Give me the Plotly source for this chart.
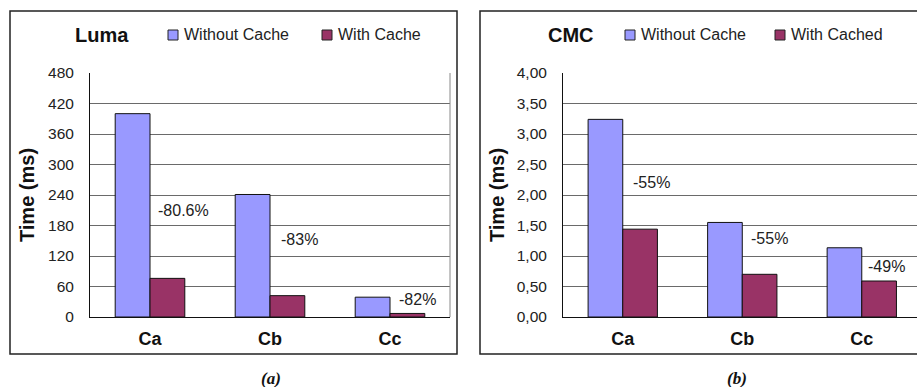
import plotly.graph_objects as go

W, H = 917, 387

categories = ["Ca", "Cb", "Cc"]

luma_without = [400, 241, 39]
luma_with = [76, 42, 7]
luma_labels = ["-80.6%", "-83%", "-82%"]
luma_label_x = [0.275, 1.242, 2.225]
luma_label_y = [210, 153, 35]
luma_ticks = [0, 60, 120, 180, 240, 300, 360, 420, 480]
luma_ticktext = ["0", "60", "120", "180", "240", "300", "360", "420", "480"]

cmc_without = [3.24, 1.55, 1.135]
cmc_with = [1.44, 0.70, 0.59]
cmc_labels = ["-55%", "-55%", "-49%"]
cmc_label_x = [0.243, 1.23, 2.21]
cmc_label_y = [2.21, 1.28, 0.82]
cmc_ticks = [0, 0.5, 1.0, 1.5, 2.0, 2.5, 3.0, 3.5, 4.0]
cmc_ticktext = ["0,00", "0,50", "1,00", "1,50", "2,00", "2,50", "3,00", "3,50", "4,00"]

series_left = ["Without Cache", "With Cache"]
series_right = ["Without Cache", "With Cached"]
colors = ["#9999FF", "#993366"]

FONT = "Liberation Sans, Arial, sans-serif"

def px_x(p):
    return p / W

def px_y(p):
    return 1 - p / H

fig = go.Figure()

fig.add_trace(go.Bar(x=categories, y=luma_without, name=series_left[0],
                     marker=dict(color=colors[0], line=dict(color="#111", width=1)),
                     xaxis="x", yaxis="y", showlegend=False))
fig.add_trace(go.Bar(x=categories, y=luma_with, name=series_left[1],
                     marker=dict(color=colors[1], line=dict(color="#111", width=1)),
                     xaxis="x", yaxis="y", showlegend=False))
fig.add_trace(go.Bar(x=categories, y=cmc_without, name=series_right[0],
                     marker=dict(color=colors[0], line=dict(color="#111", width=1)),
                     xaxis="x2", yaxis="y2", showlegend=False))
fig.add_trace(go.Bar(x=categories, y=cmc_with, name=series_right[1],
                     marker=dict(color=colors[1], line=dict(color="#111", width=1)),
                     xaxis="x2", yaxis="y2", showlegend=False))

ydom = [px_y(317), px_y(73)]
tickfont = dict(family=FONT, size=15.5, color="#222")
catfont = dict(family=FONT, size=18, color="#111", weight="bold")
titlefont = dict(family=FONT, size=20, color="#111", weight="bold")

common_x = dict(type="category", showgrid=False, showline=True, linecolor="#111",
                linewidth=1, ticks="", tickfont=catfont, ticklabelstandoff=5,
                zeroline=False, automargin=False)
common_y = dict(showgrid=True, gridcolor="#6a6a6a", gridwidth=1, showline=True,
                linecolor="#111", linewidth=1, ticks="", tickfont=tickfont,
                ticklabelstandoff=12, zeroline=False, domain=ydom, automargin=False)

fig.update_layout(
    template="none",
    width=W, height=H,
    margin=dict(l=0, r=0, t=0, b=0, pad=0, autoexpand=False),
    paper_bgcolor="white", plot_bgcolor="white",
    barmode="group", bargap=0.42, bargroupgap=0,
    xaxis=dict(common_x, domain=[px_x(90), px_x(450)], range=[-0.5, 2.5], anchor="y"),
    yaxis=dict(common_y, range=[0, 480], tickvals=luma_ticks, ticktext=luma_ticktext,
               anchor="x",
               title=dict(text="Time (ms)", font=titlefont, standoff=8)),
    xaxis2=dict(common_x, domain=[px_x(563), 1.0], range=[-0.5, 2.462], anchor="y2"),
    yaxis2=dict(common_y, range=[0, 4], tickvals=cmc_ticks, ticktext=cmc_ticktext,
                anchor="x2",
                title=dict(text="Time (ms)", font=titlefont, standoff=6)),
    showlegend=False,
)

shapes = []
annotations = []

# outer panel boxes
shapes.append(dict(type="rect", xref="paper", yref="paper",
                   x0=px_x(10), x1=px_x(457), y0=px_y(354), y1=px_y(11),
                   line=dict(color="#222", width=1.5), layer="below"))
shapes.append(dict(type="rect", xref="paper", yref="paper",
                   x0=px_x(480), x1=px_x(930), y0=px_y(354), y1=px_y(11),
                   line=dict(color="#222", width=1.5), layer="below"))
# right border of left plot area
shapes.append(dict(type="line", xref="x domain", yref="y domain",
                   x0=1, x1=1, y0=0, y1=1, line=dict(color="#888", width=1)))

# value-change labels
for t, x, y in zip(luma_labels, luma_label_x, luma_label_y):
    annotations.append(dict(text=t, x=x, y=y, xref="x", yref="y", showarrow=False,
                            xanchor="center", yanchor="middle",
                            font=dict(family=FONT, size=16, color="#222")))
for t, x, y in zip(cmc_labels, cmc_label_x, cmc_label_y):
    annotations.append(dict(text=t, x=x, y=y, xref="x2", yref="y2", showarrow=False,
                            xanchor="center", yanchor="middle",
                            font=dict(family=FONT, size=16, color="#222")))

# panel titles
annotations.append(dict(text="Luma", x=px_x(73), y=px_y(35), xref="paper", yref="paper",
                        xanchor="left", yanchor="middle", showarrow=False, font=titlefont))
annotations.append(dict(text="CMC", x=px_x(546), y=px_y(35), xref="paper", yref="paper",
                        xanchor="left", yanchor="middle", showarrow=False, font=titlefont))

# manual legends
legend_items = [
    (168, series_left[0], colors[0]),
    (322, series_left[1], colors[1]),
    (625, series_right[0], colors[0]),
    (775, series_right[1], colors[1]),
]
for sx, name, col in legend_items:
    shapes.append(dict(type="rect", xref="paper", yref="paper",
                       x0=px_x(sx), x1=px_x(sx + 10), y0=px_y(40), y1=px_y(30),
                       fillcolor=col, line=dict(color="#222", width=1)))
    annotations.append(dict(text=name, x=px_x(sx + 14), y=px_y(35), xref="paper",
                            yref="paper", xanchor="left", yanchor="middle",
                            showarrow=False,
                            font=dict(family=FONT, size=16, color="#222")))

# captions
cap_font = dict(family="Liberation Serif, Times New Roman, serif", size=17,
                color="#111", weight="bold", style="italic")
annotations.append(dict(text="(a)", x=px_x(271), y=px_y(378), xref="paper", yref="paper",
                        xanchor="center", yanchor="middle",
                        showarrow=False, font=cap_font))
annotations.append(dict(text="(b)", x=px_x(737), y=px_y(378), xref="paper", yref="paper",
                        xanchor="center", yanchor="middle",
                        showarrow=False, font=cap_font))

fig.update_layout(shapes=shapes, annotations=annotations)

fig.write_html("out.html", config={"displayModeBar": False},
               post_script="document.body.style.margin='0';document.body.style.overflow='hidden';")
